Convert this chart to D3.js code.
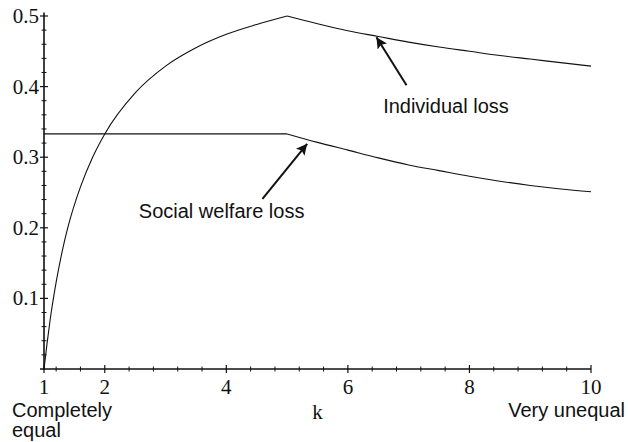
<!DOCTYPE html>
<html>
<head>
<meta charset="utf-8">
<script src="https://cdn.jsdelivr.net/npm/d3@7"></script>
<style>
  body { margin: 0; background: #fff; }
  svg { display: block; }
</style>
</head>
<body>
<script>
let width = 628;
let height = 442;

// values
let kValues = [1, 1.05, 1.1, 1.2, 1.3, 1.4, 1.6, 1.8, 2, 2.5, 3, 3.5, 4, 4.5, 5,
  5.5, 6, 6.5, 7, 7.5, 8, 8.5, 9, 9.5, 10];
let individualLoss = [0, 0.036, 0.069, 0.123, 0.167, 0.203, 0.258, 0.3, 0.333, 0.391, 0.429, 0.455, 0.474, 0.488, 0.5,
  0.489, 0.479, 0.471, 0.463, 0.456, 0.45, 0.444, 0.439, 0.434, 0.429];
let socialLoss = [0.333, 0.333, 0.333, 0.333, 0.333, 0.333, 0.333, 0.333, 0.333, 0.333, 0.333, 0.333, 0.333, 0.333, 0.333,
  0.321, 0.31, 0.299, 0.289, 0.281, 0.273, 0.266, 0.26, 0.255, 0.251];
let kink = 5;

let xTicks = [1, 2, 4, 6, 8, 10];
let xMinor = [1.2, 1.6, 2.4, 2.8, 3.2, 3.6, 4.4, 4.8, 5.2, 5.6, 6.4, 6.8, 7.2, 7.6, 8.4, 8.8, 9.2, 9.6];
let yTicks = [0.1, 0.2, 0.3, 0.4, 0.5];
let yMinor = d3.range(0.02, 0.5, 0.02).filter(v => Math.abs(v * 10 - Math.round(v * 10)) > 1e-6);

// annotations: [label, text k, text y, tail k, tail y, tip k, tip y]
let notes = [
  ["Individual loss", 6.58, 0.363, 6.965, 0.402, 6.47, 0.470],
  ["Social welfare loss", 2.56, 0.214, 4.594, 0.241, 5.33, 0.319]
];

let x = d3.scaleLinear().domain([1, 10]).range([44, 591]);
let y = d3.scaleLinear().domain([0, 0.5]).range([369, 16]);

let svg = d3.select("body")
  .append("svg")
  .attr("width", width)
  .attr("height", height);

svg.append("defs").append("marker")
  .attr("id", "head")
  .attr("viewBox", "0 0 10 10")
  .attr("refX", 10).attr("refY", 5)
  .attr("markerWidth", 11).attr("markerHeight", 11)
  .attr("markerUnits", "userSpaceOnUse")
  .attr("orient", "auto")
  .append("path")
  .attr("d", "M0,0L10,5L0,10L2,5Z")
  .attr("fill", "#111");

// axes
let axes = svg.append("g").attr("stroke", "#111");
axes.append("line")
  .attr("x1", x(1)).attr("x2", x(1))
  .attr("y1", y(0) + 1).attr("y2", y(0.505))
  .attr("stroke-width", 1.6);
axes.append("line")
  .attr("x1", x(1) - 4).attr("x2", x(10))
  .attr("y1", y(0)).attr("y2", y(0))
  .attr("stroke-width", 1.6);

axes.selectAll(".xt").data(xTicks).enter().append("line")
  .attr("x1", d => x(d)).attr("x2", d => x(d))
  .attr("y1", y(0) - 4).attr("y2", y(0) + 4)
  .attr("stroke-width", 1.2);
axes.selectAll(".xm").data(xMinor).enter().append("line")
  .attr("x1", d => x(d)).attr("x2", d => x(d))
  .attr("y1", y(0) - 2.5).attr("y2", y(0) + 2.5)
  .attr("stroke-width", 1);
axes.selectAll(".yt").data(yTicks).enter().append("line")
  .attr("x1", x(1) - 4).attr("x2", x(1) + 4)
  .attr("y1", d => y(d)).attr("y2", d => y(d))
  .attr("stroke-width", 1.2);
axes.selectAll(".ym").data(yMinor).enter().append("line")
  .attr("x1", x(1) - 2.5).attr("x2", x(1) + 2.5)
  .attr("y1", d => y(d)).attr("y2", d => y(d))
  .attr("stroke-width", 1);

let serif = "'Liberation Serif', 'Times New Roman', serif";
let sans = "'Liberation Sans', Arial, sans-serif";

svg.append("g")
  .attr("font-family", serif).attr("font-size", 21).attr("fill", "#111")
  .attr("text-anchor", "middle")
  .selectAll("text").data(xTicks).enter().append("text")
  .attr("x", d => x(d)).attr("y", y(0) + 25)
  .text(d => d);

svg.append("g")
  .attr("font-family", serif).attr("font-size", 21).attr("fill", "#111")
  .attr("text-anchor", "end")
  .selectAll("text").data(yTicks).enter().append("text")
  .attr("x", x(1) - 5).attr("y", d => y(d)).attr("dy", "0.33em")
  .text(d => d3.format(".1f")(d));

svg.append("text")
  .attr("font-family", serif).attr("font-size", 21).attr("fill", "#111")
  .attr("text-anchor", "middle")
  .attr("x", x(5.5)).attr("y", 419)
  .text("k");

let bottom = svg.append("g").attr("font-family", sans).attr("font-size", 20).attr("fill", "#111");
bottom.append("text").attr("x", 12).attr("y", 417).text("Completely");
bottom.append("text").attr("x", 12).attr("y", 437).text("equal");
bottom.append("text").attr("x", 625).attr("y", 417).attr("text-anchor", "end").text("Very unequal");

// curves, drawn in two pieces so the kink at k = 5 stays sharp
let rows = kValues.map((k, i) => ({k: k, ind: individualLoss[i], soc: socialLoss[i]}));
let pieces = [rows.filter(d => d.k <= kink), rows.filter(d => d.k >= kink)];

["ind", "soc"].forEach(key => {
  let line = d3.line()
    .x(d => x(d.k))
    .y(d => y(d[key]))
    .curve(d3.curveMonotoneX);
  pieces.forEach(p => {
    svg.append("path")
      .attr("d", line(p))
      .attr("fill", "none")
      .attr("stroke", "#111")
      .attr("stroke-width", 1.1);
  });
});

// annotations
let ann = svg.append("g");
ann.selectAll("line").data(notes).enter().append("line")
  .attr("x1", d => x(d[3])).attr("y1", d => y(d[4]))
  .attr("x2", d => x(d[5])).attr("y2", d => y(d[6]))
  .attr("stroke", "#111").attr("stroke-width", 2)
  .attr("marker-end", "url(#head)");
ann.selectAll("text").data(notes).enter().append("text")
  .attr("font-family", sans).attr("font-size", 20).attr("fill", "#111")
  .attr("x", d => x(d[1])).attr("y", d => y(d[2]))
  .text(d => d[0]);
</script>
</body>
</html>
